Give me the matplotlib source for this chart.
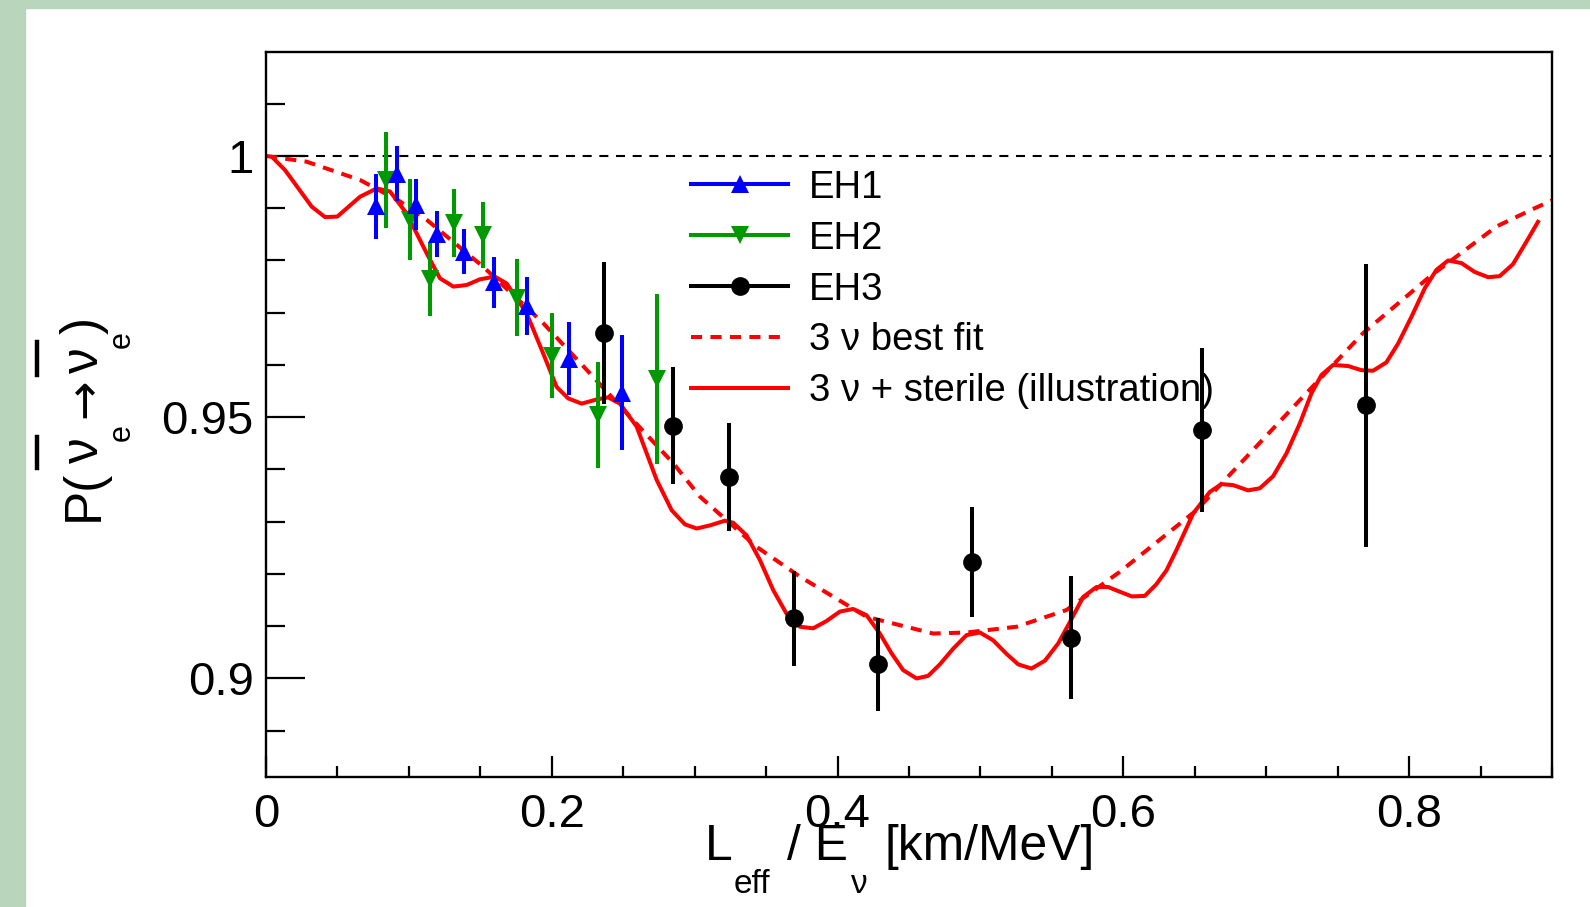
import numpy as np
import matplotlib
matplotlib.use('Agg')
import matplotlib.pyplot as plt
from matplotlib.lines import Line2D
from matplotlib.patches import Rectangle
from matplotlib.ticker import MultipleLocator, FuncFormatter

plt.rcParams['font.family'] = ['Liberation Sans', 'DejaVu Sans']
plt.rcParams['lines.scale_dashes'] = False

W, H = 1590, 907

# EH1 / EH2 / EH3 data points
eh1_x = [0.0768, 0.0917, 0.1047, 0.1196, 0.1387, 0.1597, 0.1824, 0.2120, 0.2493]
eh1_y = [0.9904, 0.9966, 0.9907, 0.9851, 0.9817, 0.9758, 0.9713, 0.9612, 0.9547]
eh1_err = [0.0062, 0.0053, 0.0048, 0.0044, 0.0043, 0.0049, 0.0056, 0.0070, 0.0110]

eh2_x = [0.0842, 0.1010, 0.1150, 0.1313, 0.1520, 0.1754, 0.2001, 0.2325, 0.2736]
eh2_y = [0.9954, 0.9878, 0.9765, 0.9871, 0.9848, 0.9729, 0.9618, 0.9504, 0.9573]
eh2_err = [0.0092, 0.0077, 0.0071, 0.0065, 0.0063, 0.0073, 0.0082, 0.0102, 0.0162]

eh3_x = [0.2367, 0.2846, 0.3237, 0.3694, 0.4284, 0.4940, 0.5637, 0.6552, 0.7700]
eh3_y = [0.9661, 0.9484, 0.9385, 0.9115, 0.9027, 0.9223, 0.9078, 0.9475, 0.9523]
eh3_err = [0.0136, 0.0112, 0.0103, 0.0091, 0.0089, 0.0106, 0.0118, 0.0157, 0.0271]

# 3 nu best fit (dashed)
fit_x = [0.0, 0.0285, 0.0658, 0.0938, 0.1124, 0.152, 0.194, 0.2267, 0.257, 0.285,
         0.3037, 0.3433, 0.3736, 0.4203, 0.4669, 0.4903, 0.5253, 0.5602, 0.5975,
         0.6512, 0.7212, 0.7678, 0.8144, 0.8611, 0.8879, 0.9]
fit_y = [1.0, 0.9989, 0.9954, 0.9913, 0.9878, 0.9788, 0.968, 0.9584, 0.9494, 0.9412,
         0.9348, 0.9252, 0.9195, 0.9118, 0.9086, 0.9088, 0.9099, 0.9131, 0.9204,
         0.9322, 0.9526, 0.9661, 0.9769, 0.9865, 0.9900, 0.9915]

# 3 nu + sterile (illustration)
st_x = [0.005, 0.0133, 0.032, 0.0413, 0.0499, 0.0658, 0.0775, 0.0868, 0.0984, 0.1124,
        0.1217, 0.1311, 0.1404, 0.1497, 0.1602, 0.1684, 0.1824, 0.1940, 0.2034, 0.2115,
        0.2209, 0.2314, 0.2395, 0.2477, 0.2594, 0.2734, 0.2839, 0.2932, 0.3014, 0.3107,
        0.3212, 0.3270, 0.3363, 0.3456, 0.3550, 0.3643, 0.3736, 0.3829, 0.3923, 0.4016,
        0.4109, 0.4203, 0.4296, 0.4378, 0.4459, 0.4553, 0.4634, 0.4716, 0.4809, 0.4903,
        0.4996, 0.5089, 0.5183, 0.5264, 0.5357, 0.5451, 0.5544, 0.5626, 0.5719, 0.5812,
        0.5894, 0.5975, 0.6060, 0.6150, 0.6230, 0.6302, 0.6372, 0.6489, 0.6605, 0.6687,
        0.6769, 0.6873, 0.6955, 0.7048, 0.7142, 0.7235, 0.7317, 0.7387, 0.7468, 0.7573,
        0.7666, 0.7748, 0.7841, 0.7923, 0.8016, 0.8110, 0.8191, 0.8273, 0.8366, 0.8459,
        0.8553, 0.8634, 0.8727, 0.8821, 0.8902]
st_y = [0.9996, 0.9973, 0.9903, 0.9883, 0.9884, 0.9922, 0.9938, 0.9932, 0.9890, 0.9814,
        0.9766, 0.9750, 0.9753, 0.9764, 0.9769, 0.9756, 0.9699, 0.9622, 0.9558, 0.9536,
        0.9526, 0.9534, 0.9538, 0.9526, 0.9482, 0.9380, 0.9322, 0.9295, 0.9287, 0.9293,
        0.9302, 0.9298, 0.9274, 0.9227, 0.9169, 0.9124, 0.9099, 0.9096, 0.9110, 0.9128,
        0.9133, 0.9121, 0.9086, 0.9048, 0.9016, 0.9000, 0.9005, 0.9027, 0.9057, 0.9083,
        0.9088, 0.9073, 0.9047, 0.9027, 0.9019, 0.9034, 0.9067, 0.9108, 0.9156, 0.9175,
        0.9175, 0.9166, 0.9157, 0.9158, 0.9180, 0.9207, 0.9246, 0.9316, 0.9357, 0.9372,
        0.9370, 0.9360, 0.9364, 0.9387, 0.9431, 0.9488, 0.9546, 0.9581, 0.9600, 0.9598,
        0.9590, 0.9589, 0.9605, 0.9641, 0.9692, 0.9747, 0.9782, 0.9800, 0.9795, 0.9778,
        0.9768, 0.9770, 0.9793, 0.9836, 0.9874]

legend_labels = ['EH1', 'EH2', 'EH3', '3 \u03bd best fit', '3 \u03bd + sterile (illustration)']

GREEN = '#009900'

fig = plt.figure(figsize=(W / 100, H / 100), dpi=100)
fig.patch.set_facecolor('white')
ax = fig.add_axes([266 / W, 1 - 776.7 / H, (1552 - 266) / W, (776.7 - 52) / H])

# green frame strips
fig.add_artist(Rectangle((0, 0), 25 / W, 1, transform=fig.transFigure,
                         color='#b9d5bb', zorder=0))
fig.add_artist(Rectangle((0, 1 - 8 / H), 1, 8 / H, transform=fig.transFigure,
                         color='#b9d5bb', zorder=0))

ax.axhline(1.0, color='black', lw=1.5, ls=(0, (6.5, 5.5)), zorder=1)
ax.plot(fit_x, fit_y, color='red', lw=2.9, ls=(0, (8, 6)), zorder=2)
ax.plot(st_x, st_y, color='red', lw=2.9, zorder=2)

ax.errorbar(eh2_x, eh2_y, yerr=eh2_err, fmt='v', color=GREEN, ms=13, mew=0,
            elinewidth=2.9, capsize=0, zorder=3)
ax.errorbar(eh1_x, eh1_y, yerr=eh1_err, fmt='^', color='blue', ms=13, mew=0,
            elinewidth=2.9, capsize=0, zorder=4)
ax.errorbar(eh3_x, eh3_y, yerr=eh3_err, fmt='o', color='black', ms=13.5, mew=0,
            elinewidth=2.9, capsize=0, zorder=5)

ax.set_xlim(0, 0.9)
ax.set_ylim(0.8812, 1.0199)

ax.xaxis.set_major_locator(MultipleLocator(0.2))
ax.xaxis.set_minor_locator(MultipleLocator(0.05))
ax.yaxis.set_major_locator(MultipleLocator(0.05))
ax.yaxis.set_minor_locator(MultipleLocator(0.01))
fmt = FuncFormatter(lambda v, p: f'{round(v, 3):g}')
ax.xaxis.set_major_formatter(fmt)
ax.yaxis.set_major_formatter(fmt)

ax.tick_params(which='both', direction='in', top=False, right=False, color='black')
ax.tick_params(axis='y', which='major', length=28, width=1.6, labelsize=34, pad=9)
ax.tick_params(axis='y', which='minor', length=14, width=1.6)
ax.tick_params(axis='x', which='major', length=15, width=1.6, labelsize=34, pad=12)
ax.tick_params(axis='x', which='minor', length=8, width=1.6)
for s in ax.spines.values():
    s.set_linewidth(1.7)

handles = [
    Line2D([], [], color='blue', marker='^', ms=13, mew=0, lw=2.9),
    Line2D([], [], color=GREEN, marker='v', ms=13, mew=0, lw=2.9),
    Line2D([], [], color='black', marker='o', ms=13.5, mew=0, lw=2.9),
    Line2D([], [], color='red', lw=2.9, ls=(0, (8, 6))),
    Line2D([], [], color='red', lw=2.9),
]
ax.legend(handles, legend_labels, loc='upper left', bbox_to_anchor=(0.3305, 0.8375),
          frameon=False, fontsize=27.5, handlelength=2.54, handletextpad=0.55,
          labelspacing=0.39, borderpad=0, borderaxespad=0)


def ftext(x, y, s, size, **kw):
    return fig.text(x / W, 1 - y / H, s, fontsize=size, ha='left', va='baseline', **kw)


# x axis title, ROOT-style pieces
ftext(705, 860, 'L', 35.8)
ftext(734, 893, 'eff', 24)
ftext(787, 860, '/ E', 35.8)
ftext(851, 893, '\u03bd', 24)
ftext(885, 860, '[km/MeV]', 35.8)

# y axis title, rotated pieces
rot = dict(rotation=90, rotation_mode='anchor')
ftext(98, 521, 'P(', 37, **rot)
ftext(98, 463, '\u03bd', 37, **rot)
ftext(130, 441, 'e', 22, **rot)
ftext(98, 418, '\u2192', 34, family='DejaVu Sans', **rot)
ftext(98, 373, '\u03bd', 37, **rot)
ftext(130, 348, 'e', 22, **rot)
ftext(98, 334, ')', 37, **rot)
for y0, y1 in [(437, 468), (342, 375)]:
    fig.add_artist(Line2D([37 / W, 37 / W], [1 - y0 / H, 1 - y1 / H],
                          transform=fig.transFigure, color='black', lw=3.2))

fig.savefig('out.png', dpi=100)
